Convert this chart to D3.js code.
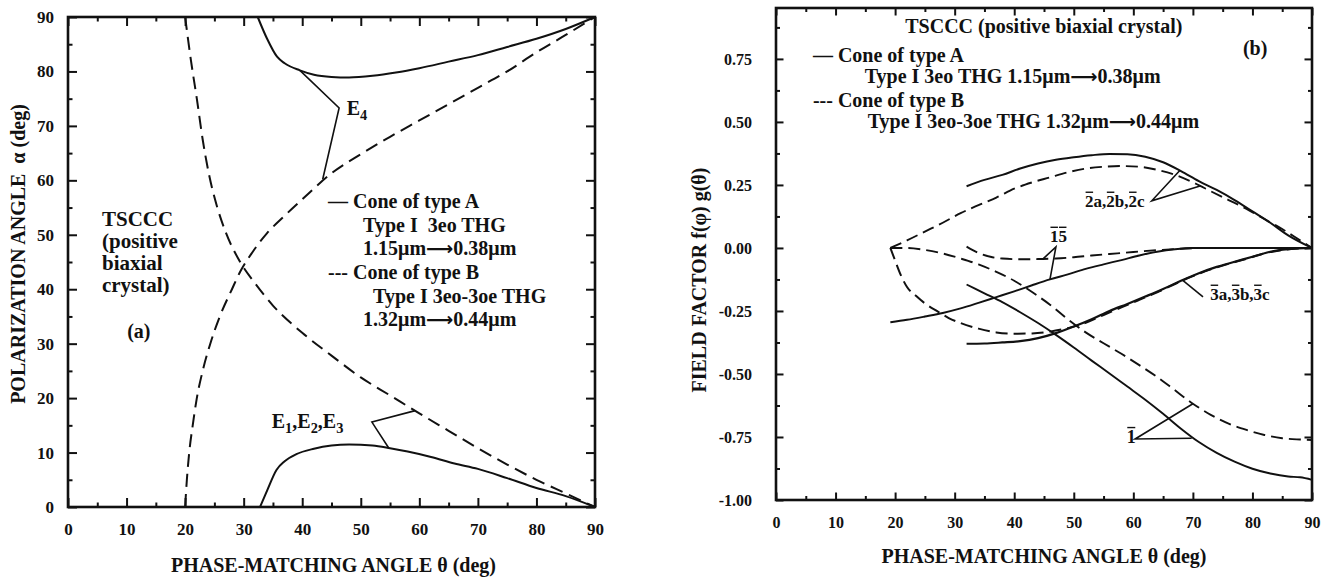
<!DOCTYPE html>
<html><head><meta charset="utf-8">
<script src="https://cdn.jsdelivr.net/npm/d3@7"></script>
<style>
body{margin:0;background:#fff;}
svg text{font-family:"Liberation Serif","Times New Roman",serif;font-weight:bold;fill:#111;white-space:pre;}
svg tspan.arr{font-family:"DejaVu Sans",sans-serif;font-weight:bold;}
</style></head><body>
<svg id="c" width="1330" height="581"></svg>
<script>
// ---------- tick values ----------
const thetaTicks = [0,10,20,30,40,50,60,70,80,90];
const thetaMinor = [5,15,25,35,45,55,65,75,85];
const alphaTicks = [0,10,20,30,40,50,60,70,80,90];
const alphaMinor = [5,15,25,35,45,55,65,75,85];
const fieldTicks = [-1,-0.75,-0.5,-0.25,0,0.25,0.5,0.75];
const fieldTickLabels = ["-1.00","-0.75","-0.50","-0.25","0.00","0.25","0.50","0.75"];
const fieldMinor = [-0.875,-0.625,-0.375,-0.125,0.125,0.375,0.625,0.875];

// ---------- panel (a): [theta, alpha] ----------
const coneA_E4 = [[32.4,90],[34,86],[35.7,82.7],[37,81.5],[39.6,80.2],[42,79.4],[45,79.0],[48,78.9],[52,79.2],[56,79.8],[60,80.6],[65,81.8],[70,83],[75,84.5],[80,86],[85,87.8],[90,90]];
const coneA_E123 = [[32.8,0],[34,3],[35.6,6.8],[37,8.4],[39,9.7],[42,10.7],[45,11.3],[48,11.5],[52,11.3],[55,10.8],[58,10.2],[62,9.2],[66,8.0],[70,7.0],[75,5.3],[80,3.5],[85,2.0],[90,0]];
const coneB_desc = [[20,90],[21,82],[22,75],[23,67.5],[24,61.5],[25.5,55],[27,50.3],[29.4,45],[32,41],[35,37],[40,32],[45,27.8],[50,23.8],[55,20.5],[60,17.2],[65,14],[70,10.8],[75,7.8],[80,5],[85,2.5],[90,0]];
const coneB_asc = [[20,0],[20.3,5],[20.7,10],[21.3,15],[22,20],[23,25],[24.3,30],[26,35.2],[28,40],[29.4,43.2],[31.5,46.8],[34,50.3],[37,53.5],[40,56.5],[45,61.3],[50,64.8],[55,68],[60,71],[65,74],[70,77],[75,80],[80,83.5],[85,86.7],[90,90]];
const pointerE4 = [[39.6,80.2],[46.3,73.3],[43.5,60.2]];
const pointerE123 = [[59.3,17.7],[51.9,15.6],[54.8,10.8]];

// ---------- panel (b): [theta, field factor] ----------
const fA_2 = [[32,0.245],[35,0.27],[38,0.29],[41,0.315],[44,0.335],[47,0.35],[50,0.36],[53,0.368],[56,0.373],[59,0.372],[62,0.362],[65,0.34],[68,0.305],[71,0.265],[74,0.23],[77,0.19],[80,0.145],[83,0.1],[86,0.05],[90,0]];
const fB_2 = [[19.2,0],[22,0.03],[25,0.065],[28,0.1],[31,0.138],[34,0.17],[37,0.2],[40,0.235],[43,0.26],[46,0.28],[49,0.3],[52,0.315],[55,0.322],[58,0.325],[61,0.322],[64,0.31],[67,0.29],[70,0.26],[73,0.225],[76,0.19],[79,0.155],[82,0.115],[85,0.075],[88,0.03],[90,0]];
const fA_15 = [[19.2,-0.295],[22,-0.285],[25,-0.272],[28,-0.258],[31,-0.24],[34,-0.218],[37,-0.195],[40,-0.172],[43,-0.148],[46,-0.125],[49,-0.105],[52,-0.083],[55,-0.065],[58,-0.048],[61,-0.03],[64,-0.015],[67,-0.005],[70,0],[80,0],[90,0]];
const fB_15 = [[32,0.005],[34,-0.02],[36,-0.035],[38,-0.042],[41,-0.045],[44,-0.044],[47,-0.042],[50,-0.037],[53,-0.03],[56,-0.024],[60,-0.016],[64,-0.009],[68,-0.003],[72,0],[80,0],[90,0]];
const fA_3 = [[32,-0.38],[35,-0.379],[38,-0.375],[41,-0.37],[44,-0.358],[47,-0.338],[50,-0.312],[53,-0.283],[56,-0.25],[59,-0.222],[62,-0.193],[65,-0.163],[68,-0.13],[71,-0.1],[74,-0.075],[77,-0.055],[80,-0.035],[83,-0.015],[86,-0.005],[90,0]];
const fB_3 = [[19.2,0],[20,-0.05],[21,-0.11],[22,-0.155],[23.5,-0.19],[25,-0.22],[27,-0.25],[29,-0.278],[31,-0.298],[34,-0.32],[37,-0.335],[40,-0.34],[43,-0.339],[46,-0.332],[49,-0.318],[52,-0.297],[55,-0.266],[58,-0.236],[61,-0.206],[64,-0.176],[67,-0.143],[70,-0.112],[73,-0.085],[76,-0.063],[79,-0.043],[82,-0.022],[85,-0.008],[88,-0.002],[90,0]];
const fA_1 = [[32,-0.145],[35,-0.18],[38,-0.215],[41,-0.255],[44,-0.298],[47,-0.345],[50,-0.395],[53,-0.447],[56,-0.498],[59,-0.55],[62,-0.602],[65,-0.658],[68,-0.717],[71,-0.77],[74,-0.813],[77,-0.848],[80,-0.876],[83,-0.895],[86,-0.907],[88,-0.91],[90,-0.92]];
const fB_1 = [[19.2,0],[22,0],[25,-0.008],[28,-0.022],[31,-0.042],[34,-0.065],[37,-0.095],[40,-0.13],[43,-0.175],[46,-0.225],[49,-0.283],[52,-0.335],[55,-0.378],[58,-0.42],[61,-0.465],[64,-0.512],[67,-0.565],[70,-0.618],[73,-0.662],[76,-0.697],[79,-0.722],[82,-0.742],[85,-0.755],[88,-0.76],[90,-0.762]];
const pointer2 = [[67.8,0.307],[63.1,0.187],[71.2,0.246]];
const pointer15 = [[44.8,-0.044],[47,0.004],[46,-0.125]];
const pointer3 = [[71.7,-0.194],[68.2,-0.127]];
const pointer1 = [[70,-0.618],[60.3,-0.758],[69.8,-0.755]];

// ---------- scales ----------
const svg = d3.select("#c");
const xL = d3.scaleLinear().domain([0,90]).range([68,595]);
const yL = d3.scaleLinear().domain([0,90]).range([507,17]);
const xR = d3.scaleLinear().domain([0,90]).range([776,1312]);
const yR = d3.scaleLinear().domain([-1,0.952]).range([500,8]);

function frame(x, y, o) {
  const g = svg.append("g");
  const [x0,x1] = x.range(), [yb,yt] = y.range();
  const add = (axis, tr) => {
    const a = g.append("g").attr("transform", tr).call(axis);
    a.select(".domain").remove();
    a.selectAll(".tick line").attr("stroke","#111").attr("stroke-width",2);
    a.selectAll("text").style("font-size", o.font + "px").attr("fill","#111");
    return a;
  };
  add(d3.axisBottom(x).tickValues(o.xMinor).tickSize(-o.minor).tickFormat(""), `translate(0,${yb})`);
  add(d3.axisBottom(x).tickValues(o.xMajor).tickSize(-o.major).tickPadding(o.padX).tickFormat(d3.format("d")), `translate(0,${yb})`);
  add(d3.axisTop(x).tickValues(o.xMinor).tickSize(-o.minor).tickFormat(""), `translate(0,${yt})`);
  add(d3.axisTop(x).tickValues(o.xMajor).tickSize(-o.major).tickFormat(""), `translate(0,${yt})`);
  add(d3.axisLeft(y).tickValues(o.yMinor).tickSize(-o.minor).tickFormat(""), `translate(${x0},0)`);
  add(d3.axisLeft(y).tickValues(o.yMajor).tickSize(-o.major).tickPadding(o.padY).tickFormat(o.yFmt), `translate(${x0},0)`);
  add(d3.axisRight(y).tickValues(o.yMinor).tickSize(-o.minor).tickFormat(""), `translate(${x1},0)`);
  add(d3.axisRight(y).tickValues(o.yMajor).tickSize(-o.major).tickFormat(""), `translate(${x1},0)`);
  g.append("rect").attr("x",x0).attr("y",yt).attr("width",x1-x0).attr("height",yb-yt)
    .attr("fill","none").attr("stroke","#111").attr("stroke-width",2.6);
}

frame(xL, yL, {xMajor:thetaTicks, xMinor:thetaMinor, yMajor:alphaTicks, yMinor:alphaMinor,
  major:9, minor:4.5, padX:16, padY:14, font:17, yFmt:d3.format("d")});
frame(xR, yR, {xMajor:thetaTicks, xMinor:thetaMinor, yMajor:fieldTicks, yMinor:fieldMinor,
  major:7.5, minor:4, padX:17, padY:24, font:16, yFmt:(d)=>fieldTickLabels[fieldTicks.indexOf(d)]});

function curve(x, y, data, dashed, w) {
  svg.append("path").datum(data)
    .attr("d", d3.line().x(d=>x(d[0])).y(d=>y(d[1])).curve(d3.curveMonotoneX))
    .attr("fill","none").attr("stroke","#111").attr("stroke-width", w||2)
    .attr("stroke-dasharray", dashed ? dashed : null).attr("stroke-linejoin","round");
}
function pointer(x, y, data) {
  svg.append("path").datum(data)
    .attr("d", d3.line().x(d=>x(d[0])).y(d=>y(d[1])))
    .attr("fill","none").attr("stroke","#111").attr("stroke-width",1.6);
}
function label(x, y, tx, ty, str, size, anchor) {
  const t = svg.append("text").attr("x", x(tx)).attr("y", y(ty))
    .attr("text-anchor", anchor||"start").style("font-size", size+"px");
  const parts = str.split("→");
  parts.forEach((p, i) => {
    if (i > 0) t.append("tspan").attr("class","arr").style("font-size",(size*0.95)+"px").text("⟶");
    t.append("tspan").text(p);
  });
  return t;
}
function overbar(t, idx) {
  const n = t.node();
  const fs = parseFloat(t.style("font-size"));
  const by = +t.attr("y");
  idx.forEach(i => {
    const e = n.getExtentOfChar(i);
    svg.append("line").attr("x1", e.x+0.5).attr("x2", e.x+e.width-0.5)
      .attr("y1", by-0.86*fs).attr("y2", by-0.86*fs)
      .attr("stroke","#111").attr("stroke-width",1.4);
  });
}
function subLabel(x, y, tx, ty, parts, size) {
  const t = svg.append("text").attr("x", x(tx)).attr("y", y(ty)).style("font-size", size+"px");
  parts.forEach(p => {
    if (p.sub) t.append("tspan").attr("dy", 5).style("font-size", (size*0.72)+"px").text(p.s);
    else t.append("tspan").attr("dy", p.after ? -5 : 0).text(p.s);
  });
  return t;
}

// ---------- panel (a) ----------
curve(xL, yL, coneA_E4, null, 2);
curve(xL, yL, coneA_E123, null, 2);
curve(xL, yL, coneB_desc, "13,7", 2);
curve(xL, yL, coneB_asc, "13,7", 2);
pointer(xL, yL, pointerE4);
pointer(xL, yL, pointerE123);

subLabel(xL, yL, 47.6, 72.0, [{s:"E"},{s:"4",sub:true}], 20);
subLabel(xL, yL, 34.8, 14.5, [{s:"E"},{s:"1",sub:true},{s:",E",after:true},{s:"2",sub:true},{s:",E",after:true},{s:"3",sub:true}], 20);

label(xL, yL, 5.8, 51.6, "TSCCC", 21);
label(xL, yL, 5.8, 47.6, "(positive", 21);
label(xL, yL, 5.8, 43.5, "biaxial", 21);
label(xL, yL, 5.8, 39.5, "crystal)", 21);
label(xL, yL, 10.1, 31.0, "(a)", 20);

label(xL, yL, 44.4, 54.9, "— Cone of type A", 20);
label(xL, yL, 50.4, 50.5, "Type I  3eo THG", 20);
label(xL, yL, 50.4, 46.3, "1.15μm→0.38μm", 20);
label(xL, yL, 44.4, 41.9, "--- Cone of type B", 20);
label(xL, yL, 52.1, 37.5, "Type I 3eo-3oe THG", 20);
label(xL, yL, 50.4, 33.2, "1.32μm→0.44μm", 20);

svg.append("text").attr("x", d3.mean(xL.range())+2).attr("y", 572).attr("text-anchor","middle")
  .style("font-size","20px").text("PHASE-MATCHING ANGLE θ (deg)");
svg.append("text").attr("transform", `translate(25,254) rotate(-90)`).attr("text-anchor","middle")
  .style("font-size","20px").text("POLARIZATION ANGLE  α (deg)");

// ---------- panel (b) ----------
curve(xR, yR, fA_2, null, 2);
curve(xR, yR, fB_2, "12,6", 1.9);
curve(xR, yR, fA_15, null, 1.9);
curve(xR, yR, fB_15, "12,6", 1.9);
curve(xR, yR, fA_3, null, 2.2);
curve(xR, yR, fB_3, "12,6", 2);
curve(xR, yR, fA_1, null, 1.9);
curve(xR, yR, fB_1, "12,6", 1.9);
pointer(xR, yR, pointer2);
pointer(xR, yR, pointer15);
pointer(xR, yR, pointer3);
pointer(xR, yR, pointer1);

overbar(label(xR, yR, 51.9, 0.163, "2a,2b,2c", 17), [0,3,6]);
overbar(label(xR, yR, 46.0, 0.024, "15", 17), [0,1]);
overbar(label(xR, yR, 72.9, -0.206, "3a,3b,3c", 17), [0,3,6]);
overbar(label(xR, yR, 58.9, -0.774, "1", 18), [0]);

label(xR, yR, 21.7, 0.853, "TSCCC (positive biaxial crystal)", 20);
label(xR, yR, 78.4, 0.766, "(b)", 20);
label(xR, yR, 6.2, 0.738, "— Cone of type A", 20);
label(xR, yR, 14.9, 0.655, "Type I 3eo THG 1.15μm→0.38μm", 20);
label(xR, yR, 6.2, 0.56, "--- Cone of type B", 20);
label(xR, yR, 15.4, 0.476, "Type I 3eo-3oe THG 1.32μm→0.44μm", 20);

svg.append("text").attr("x", d3.mean(xR.range())).attr("y", 563).attr("text-anchor","middle")
  .style("font-size","20px").text("PHASE-MATCHING ANGLE θ (deg)");
svg.append("text").attr("transform", `translate(706,280) rotate(-90)`).attr("text-anchor","middle")
  .style("font-size","20px").text("FIELD FACTOR f(φ) g(θ)");
</script>
</body></html>
